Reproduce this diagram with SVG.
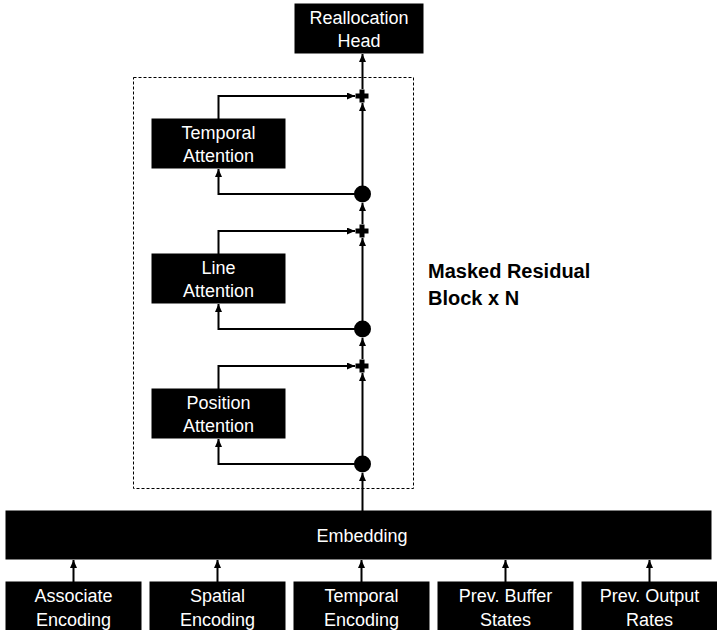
<svg xmlns="http://www.w3.org/2000/svg" width="717" height="630" viewBox="0 0 717 630">
<style>
.box{fill:#000;stroke:#000;stroke-width:1}
.lbl{fill:#fff;font-family:"Liberation Sans",Arial,sans-serif;font-size:18px;text-anchor:middle}
.bold{fill:#000;font-family:"Liberation Sans",Arial,sans-serif;font-size:20px;font-weight:bold}
.ln{fill:none;stroke:#000;stroke-width:2}
.dash{fill:none;stroke:#000;stroke-width:1;stroke-dasharray:3,2}
</style>
<defs>
<marker id="arr" markerUnits="userSpaceOnUse" markerWidth="8" markerHeight="7" refX="8" refY="3.5" orient="auto">
<path d="M0,0 L8,3.5 L0,7 z" fill="#000"/>
</marker>
<path id="plus" d="M-2.5,-6.5 H2.5 V-2.5 H6.5 V2.5 H2.5 V6.5 H-2.5 V2.5 H-6.5 V-2.5 H-2.5 Z" fill="#000"/>
</defs>
<g id="masked-block">
<rect class="dash" x="133.5" y="77.5" width="280" height="411"/>
<text class="bold" x="428" y="278">Masked Residual</text>
<text class="bold" x="428" y="305">Block x N</text>
</g>
<g id="reallocation-head">
<rect class="box" x="295" y="4" width="128" height="49"/>
<text class="lbl" x="359" y="24">Reallocation</text>
<text class="lbl" x="359" y="47">Head</text>
</g>
<g id="temporal-attention">
<rect class="box" x="152" y="119" width="133" height="49"/>
<text class="lbl" x="218.5" y="139">Temporal</text>
<text class="lbl" x="218.5" y="162">Attention</text>
</g>
<g id="line-attention">
<rect class="box" x="152" y="254" width="133" height="49"/>
<text class="lbl" x="218.5" y="274">Line</text>
<text class="lbl" x="218.5" y="297">Attention</text>
</g>
<g id="position-attention">
<rect class="box" x="152" y="389" width="133" height="49"/>
<text class="lbl" x="218.5" y="409">Position</text>
<text class="lbl" x="218.5" y="432">Attention</text>
</g>
<g id="plus-1"><use href="#plus" x="362" y="96"/></g>
<g id="plus-2"><use href="#plus" x="362" y="231"/></g>
<g id="plus-3"><use href="#plus" x="362" y="366"/></g>
<g id="split-1"><circle cx="362.5" cy="194" r="8.5" fill="#000"/></g>
<g id="split-2"><circle cx="362.5" cy="329" r="8.5" fill="#000"/></g>
<g id="split-3"><circle cx="362.5" cy="464" r="8.5" fill="#000"/></g>
<g id="embedding">
<rect class="box" x="6" y="511" width="705" height="48"/>
<text class="lbl" x="362" y="542">Embedding</text>
</g>
<g id="associate-encoding">
<rect class="box" x="6" y="582" width="135" height="52"/>
<text class="lbl" x="73.5" y="602">Associate</text>
<text class="lbl" x="73.5" y="626">Encoding</text>
</g>
<g id="spatial-encoding">
<rect class="box" x="150" y="582" width="135" height="52"/>
<text class="lbl" x="217.5" y="602">Spatial</text>
<text class="lbl" x="217.5" y="626">Encoding</text>
</g>
<g id="temporal-encoding">
<rect class="box" x="294" y="582" width="135" height="52"/>
<text class="lbl" x="361.5" y="602">Temporal</text>
<text class="lbl" x="361.5" y="626">Encoding</text>
</g>
<g id="prev-buffer-states">
<rect class="box" x="438" y="582" width="135" height="52"/>
<text class="lbl" x="505.5" y="602">Prev. Buffer</text>
<text class="lbl" x="505.5" y="626">States</text>
</g>
<g id="prev-output-rates">
<rect class="box" x="582" y="582" width="135" height="52"/>
<text class="lbl" x="649.5" y="602">Prev. Output</text>
<text class="lbl" x="649.5" y="626">Rates</text>
</g>
<g id="connectors">
<path class="ln" d="M73.5,582 V560" marker-end="url(#arr)"/>
<path class="ln" d="M217.5,582 V560" marker-end="url(#arr)"/>
<path class="ln" d="M361.5,582 V560" marker-end="url(#arr)"/>
<path class="ln" d="M505.5,582 V560" marker-end="url(#arr)"/>
<path class="ln" d="M649.5,582 V560" marker-end="url(#arr)"/>
<path class="ln" d="M362.5,511 V473" marker-end="url(#arr)"/>
<path class="ln" d="M362.5,456 V373" marker-end="url(#arr)"/>
<path class="ln" d="M355,464 H218.5 V439" marker-end="url(#arr)"/>
<path class="ln" d="M218.5,389 V366 H355" marker-end="url(#arr)"/>
<path class="ln" d="M362.5,359 V338" marker-end="url(#arr)"/>
<path class="ln" d="M362.5,321 V238" marker-end="url(#arr)"/>
<path class="ln" d="M355,329 H218.5 V304" marker-end="url(#arr)"/>
<path class="ln" d="M218.5,254 V231 H355" marker-end="url(#arr)"/>
<path class="ln" d="M362.5,224 V203" marker-end="url(#arr)"/>
<path class="ln" d="M362.5,186 V103" marker-end="url(#arr)"/>
<path class="ln" d="M355,194 H218.5 V169" marker-end="url(#arr)"/>
<path class="ln" d="M218.5,119 V96 H355" marker-end="url(#arr)"/>
<path class="ln" d="M362.5,89 V54" marker-end="url(#arr)"/>
</g>
</svg>
